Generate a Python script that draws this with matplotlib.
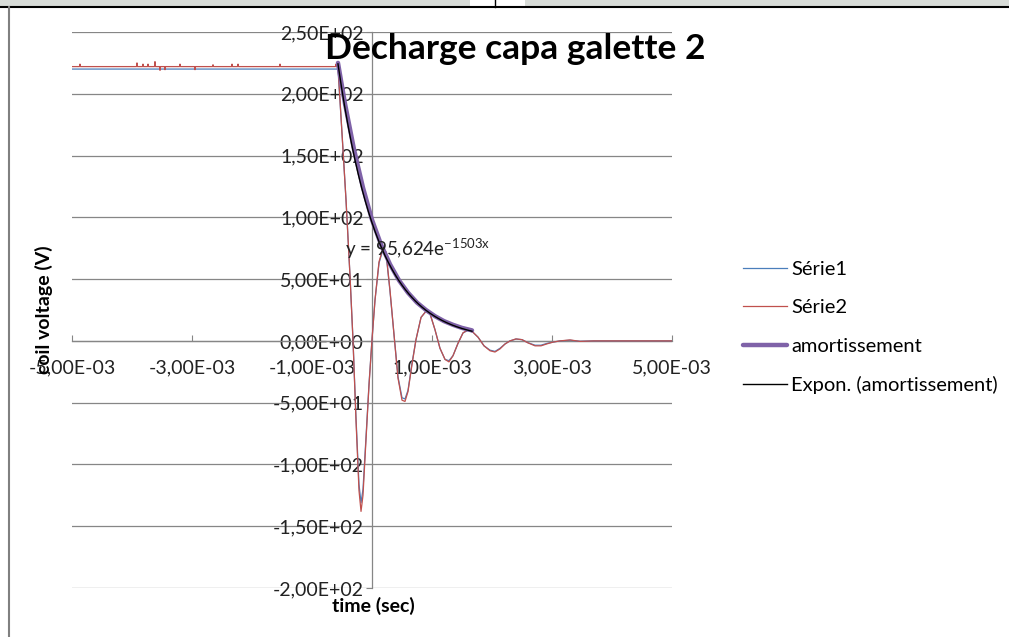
import matplotlib
matplotlib.use("Agg")
import matplotlib.pyplot as plt
from matplotlib.patches import Rectangle
from matplotlib.lines import Line2D
from matplotlib.ticker import FixedLocator, FuncFormatter
import numpy as np

plt.rcParams['font.family'] = ['Lato', 'DejaVu Sans']

# ---- data (time in ms, voltage in V) ----
t_osc = [-0.567, -0.50, -0.433, -0.367, -0.317, -0.267, -0.217, -0.183, -0.15, -0.10,
         -0.05, 0.0, 0.05, 0.117, 0.183, 0.233, 0.30, 0.367, 0.433, 0.50,
         0.55, 0.60, 0.667, 0.733, 0.817, 0.90, 0.967, 1.05, 1.133, 1.217,
         1.283, 1.35, 1.433, 1.517, 1.60, 1.683, 1.767, 1.867, 1.967, 2.05,
         2.133, 2.217, 2.30, 2.40, 2.50, 2.60, 2.717, 2.817, 2.917, 3.017,
         3.133, 3.30, 3.467, 3.70, 4.0, 4.5, 5.0]

serie1_osc = [220, 168, 114, 53, 1, -62, -116, -131, -120, -78,
              -35, 1, 33, 63, 74, 71, 40, 5, -29, -46,
              -47, -40, -18, 1, 19, 24, 22, 9, -6, -15,
              -16, -12, -2, 6.5, 8.5, 7, 3, -4, -7.5, -8.5,
              -6, -2.5, 0, 1.5, 1, -1.5, -3.5, -3.5, -2, -1,
              0, 0.5, -0.3, 0, 0, 0, 0]

serie2_osc = [222, 168, 114, 53, 1, -64, -121, -138, -125, -80,
              -36, 1, 33, 64, 75, 72, 41, 5, -30, -48,
              -49, -41, -19, 1, 19, 24, 22, 9, -6, -15,
              -17, -12, -2, 6.5, 9, 7, 3, -4, -8, -9,
              -6.5, -2.5, 0, 1.6, 1, -1.6, -4, -4, -2.4, -1,
              0, 0.8, -0.4, 0, 0, 0, 0]

serie1_flat = 220
serie2_flat = 222
# little glitches on the flat part of Série2
spike_t = [-4.867, -3.917, -3.817, -3.733, -3.617, -3.533, -3.45, -3.2, -2.95,
           -2.65, -2.333, -2.233, -1.533, -0.6]
spike_v = [224, 225, 224, 224, 226, 219, 219.5, 224, 219.5,
           223.5, 224, 224, 224, 224]

t_amort = [-0.567, -0.45, -0.3, -0.15, 0.0, 0.15, 0.3, 0.45, 0.6, 0.75,
           0.9, 1.05, 1.2, 1.35, 1.5, 1.667]
v_amort = [225, 192, 155, 124, 98, 78, 62, 49, 39, 31,
           25, 20, 16, 13, 10.5, 8.5]

# Excel exponential trendline coefficients (y = a * exp(b x))
fit_a = 95.624
fit_b = -1503

# ---- build full series (seconds) ----
t1 = [-5.0, t_osc[0]] + t_osc[1:]
v1 = [serie1_flat, serie1_flat] + serie1_osc[1:]

t2 = [-5.0]
v2 = [serie2_flat]
for ts, vs in zip(spike_t, spike_v):
    t2 += [ts - 0.008, ts, ts + 0.008]
    v2 += [serie2_flat, vs, serie2_flat]
t2 += t_osc
v2 += serie2_osc

t1 = np.array(t1) * 1e-3
t2 = np.array(t2) * 1e-3
ta = np.array(t_amort) * 1e-3
t_fit = np.linspace(ta[0], ta[-1], 200)
v_fit = fit_a * np.exp(fit_b * t_fit)

W, H = 1009, 637
fig = plt.figure(figsize=(W / 100, H / 100), dpi=100)


def fx(px):
    return px / W


def fy(py):
    return 1 - py / H


ax = fig.add_axes([fx(72), fy(588), fx(672) - fx(72), fy(32) - fy(588)])

grid_col = '#868686'
ax.set_xlim(-5e-3, 5e-3)
ax.set_ylim(-200, 250)

for yv in np.arange(-200, 251, 50):
    ax.axhline(yv, color=grid_col, lw=0.9, zorder=1)

ax.spines['top'].set_visible(False)
ax.spines['right'].set_visible(False)
ax.spines['left'].set_position(('data', 0))
ax.spines['bottom'].set_position(('data', 0))
for s in ('left', 'bottom'):
    ax.spines[s].set_color(grid_col)
    ax.spines[s].set_linewidth(0.9)

fmt = FuncFormatter(lambda v, p: f"{v:.2E}".replace('.', ','))
ax.yaxis.set_major_locator(FixedLocator(np.arange(-200, 251, 50)))
ax.yaxis.set_major_formatter(fmt)
ax.xaxis.set_major_locator(FixedLocator([-5e-3, -3e-3, -1e-3, 1e-3, 3e-3, 5e-3]))
ax.xaxis.set_major_formatter(fmt)
ax.tick_params(axis='x', direction='in', length=4, color=grid_col, pad=13,
               labelsize=14, labelcolor='#222222')
ax.tick_params(axis='y', direction='out', length=4, color=grid_col, pad=2,
               labelsize=14, labelcolor='#222222')

ax.plot(t1, v1, color='#4a7ebb', lw=0.9, label='Série1', zorder=3)
ax.plot(t2, v2, color='#c0504d', lw=0.9, label='Série2', zorder=4)
ax.plot(ta, v_amort, color='#7f62a8', lw=3.2, label='amortissement', zorder=5,
        solid_capstyle='round')
ax.plot(t_fit, v_fit, color='black', lw=1.0, label='Expon. (amortissement)', zorder=6)

ax.text(-0.45e-3, 69, 'y = 95,624e$\\mathregular{^{-1503x}}$', fontsize=13.5,
        color='#222222', zorder=7)

fig.text(fx(515), fy(49), 'Decharge capa galette 2', fontsize=25.5, fontweight='bold',
         ha='center', va='center')
fig.text(fx(373), fy(606), 'time (sec)', fontsize=14, fontweight='bold',
         ha='center', va='center')
fig.text(fx(44), fy(310), 'coil voltage (V)', fontsize=14, fontweight='bold',
         ha='center', va='center', rotation=90)

leg = fig.legend(loc='upper left', bbox_to_anchor=(fx(743), fy(261)), frameon=False,
                 fontsize=14.5, handlelength=2.2, handletextpad=0.2, labelspacing=1.05,
                 borderpad=0, borderaxespad=0)

# window frame around the chart
fig.add_artist(Rectangle((0, fy(6)), 1, 1 - fy(6), transform=fig.transFigure,
                         facecolor='#d8dcd8', edgecolor='none'))
fig.add_artist(Rectangle((fx(470), fy(6)), fx(55), 1 - fy(6), transform=fig.transFigure,
                         facecolor='white', edgecolor='none'))
fig.add_artist(Line2D([fx(495), fx(495)], [1, fy(7)], transform=fig.transFigure,
                      color='black', lw=1))
fig.add_artist(Line2D([0, 1], [fy(7), fy(7)], transform=fig.transFigure,
                      color='black', lw=1.5))
fig.add_artist(Line2D([fx(8.5), fx(8.5)], [fy(7), 0], transform=fig.transFigure,
                      color='#808080', lw=1.5))

fig.savefig('out.png', dpi=100)
